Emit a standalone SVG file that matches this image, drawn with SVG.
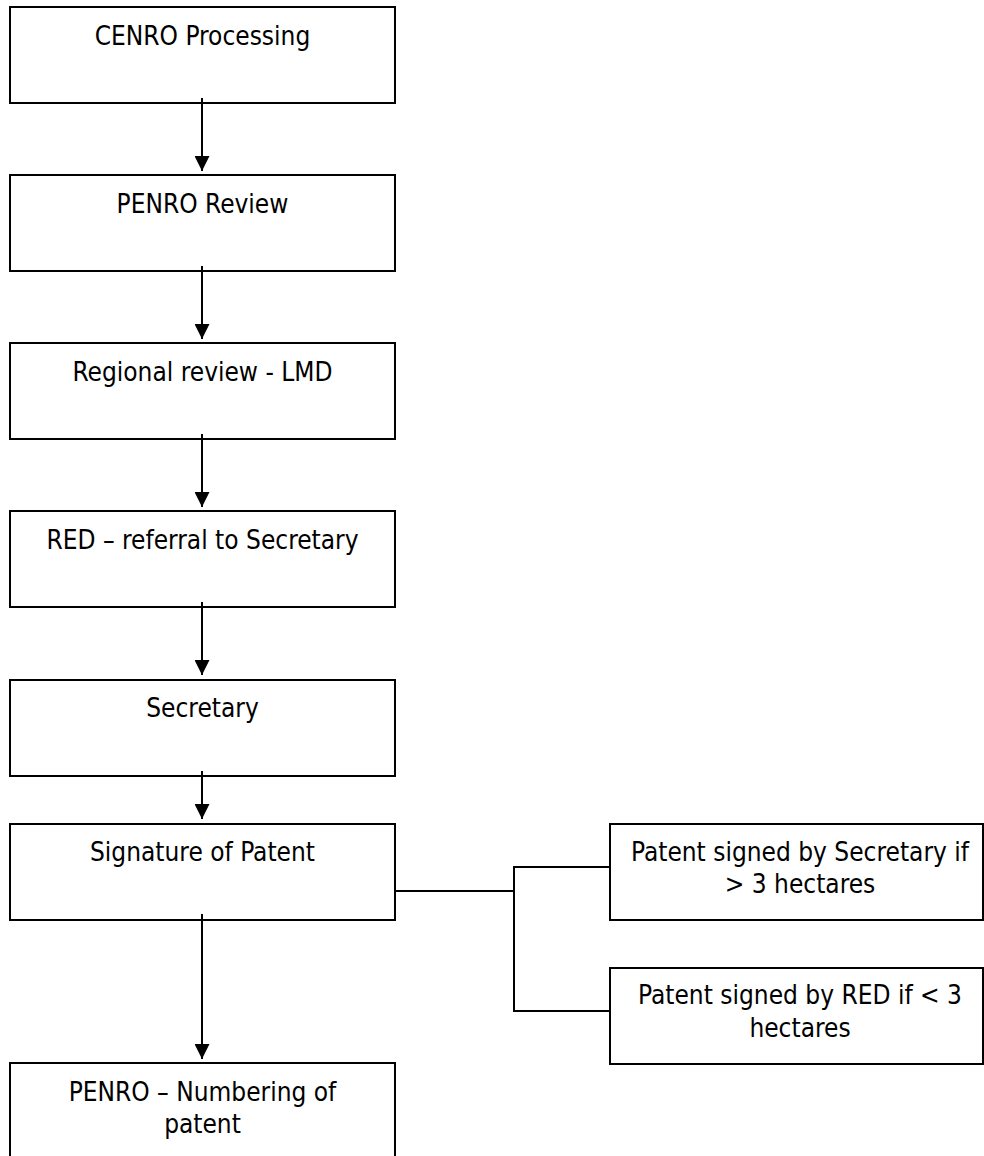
<svg xmlns="http://www.w3.org/2000/svg" width="984" height="1156" viewBox="0 0 984 1156">
  <style>
    .box { fill: #ffffff; stroke: #000000; stroke-width: 2; }
    .lbl { font-family: "DejaVu Sans Condensed", "DejaVu Sans", sans-serif; font-stretch: condensed; font-size: 26px; fill: #000000; text-anchor: middle; }
    .wire { fill: none; stroke: #000000; stroke-width: 2; }
  </style>
  <defs>
    <marker id="arrow" viewBox="0 0 15 15" refX="15" refY="7.5" markerWidth="15" markerHeight="15" markerUnits="userSpaceOnUse" orient="auto">
      <path d="M0,0 L15,7.5 L0,15 z" fill="#000000"/>
    </marker>
  </defs>
  <rect width="984" height="1156" fill="#ffffff"/>

  <!-- process steps -->
  <g id="cenro-processing">
    <rect class="box" x="10" y="7" width="385" height="96"/>
    <text class="lbl" x="202.5" y="45">CENRO Processing</text>
  </g>
  <g id="penro-review">
    <rect class="box" x="10" y="175" width="385" height="96"/>
    <text class="lbl" x="202.5" y="213">PENRO Review</text>
  </g>
  <g id="regional-review">
    <rect class="box" x="10" y="343" width="385" height="96"/>
    <text class="lbl" x="202.5" y="381">Regional review - LMD</text>
  </g>
  <g id="red-referral">
    <rect class="box" x="10" y="511" width="385" height="96"/>
    <text class="lbl" x="202.5" y="549">RED – referral to Secretary</text>
  </g>
  <g id="secretary">
    <rect class="box" x="10" y="680" width="385" height="96"/>
    <text class="lbl" x="202.5" y="717">Secretary</text>
  </g>
  <g id="signature">
    <rect class="box" x="10" y="824" width="385" height="96"/>
    <text class="lbl" x="202.5" y="861">Signature of Patent</text>
  </g>
  <g id="penro-numbering">
    <rect class="box" x="10" y="1063" width="385" height="96"/>
    <text class="lbl" x="202.5" y="1101">PENRO – Numbering of</text>
    <text class="lbl" x="202.5" y="1133">patent</text>
  </g>
  <g id="signed-secretary">
    <rect class="box" x="610" y="824" width="373" height="96"/>
    <text class="lbl" x="800" y="861">Patent signed by Secretary if</text>
    <text class="lbl" x="800" y="893">&gt; 3 hectares</text>
  </g>
  <g id="signed-red">
    <rect class="box" x="610" y="968" width="373" height="96"/>
    <text class="lbl" x="800" y="1004">Patent signed by RED if &lt; 3</text>
    <text class="lbl" x="800" y="1037">hectares</text>
  </g>

  <!-- connectors -->
  <g id="connectors">
    <line class="wire" x1="202" y1="98" x2="202" y2="171" marker-end="url(#arrow)"/>
    <line class="wire" x1="202" y1="266" x2="202" y2="339" marker-end="url(#arrow)"/>
    <line class="wire" x1="202" y1="434" x2="202" y2="507" marker-end="url(#arrow)"/>
    <line class="wire" x1="202" y1="602" x2="202" y2="675" marker-end="url(#arrow)"/>
    <line class="wire" x1="202" y1="771" x2="202" y2="819" marker-end="url(#arrow)"/>
    <line class="wire" x1="202" y1="914" x2="202" y2="1059" marker-end="url(#arrow)"/>
    <polyline class="wire" points="395,891 514,891"/>
    <polyline class="wire" points="610,867 514,867 514,1011 610,1011"/>
  </g>
</svg>
